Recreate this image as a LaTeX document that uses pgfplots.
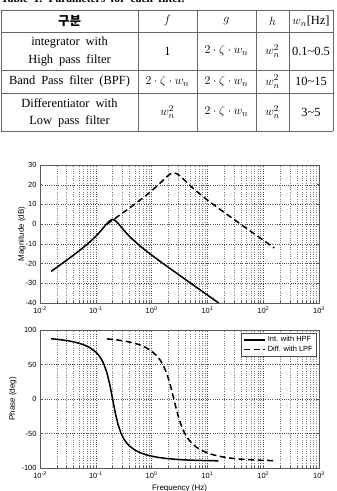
\documentclass[border=0pt]{standalone}
\usepackage{fontspec}
\setmainfont{Liberation Serif}[WordSpace=1.9]
\newfontfamily\plotfont{Liberation Sans}
\newfontfamily\cjk{Noto Sans CJK KR}
\usepackage{pgfplots}
\pgfplotsset{compat=1.18}

% Bode magnitude / phase data (frequency in Hz)
\pgfplotstableread{
f mag
0.0158 -23.99
0.02 -21.91
0.025 -19.93
0.0316 -17.84
0.04 -15.68
0.05 -13.58
0.063 -11.30
0.079 -8.91
0.1 -6.16
0.112 -4.70
0.126 -3.06
0.141 -1.40
0.158 0.30
0.178 1.79
0.2 2.39
0.224 1.82
0.251 0.42
0.282 -1.31
0.316 -2.99
0.355 -4.62
0.398 -6.10
0.5 -8.77
0.631 -11.24
0.794 -13.50
1.0 -15.68
1.26 -17.79
1.58 -19.82
2.0 -21.91
2.51 -23.91
3.16 -25.93
3.98 -27.94
5.01 -29.95
6.31 -31.95
7.94 -33.95
10 -35.96
12.6 -37.97
15.8 -39.94
}\intmag

\pgfplotstableread{
f ph
0.0158 87.3
0.02 86.5
0.025 85.6
0.0316 84.4
0.04 82.8
0.05 80.8
0.063 78.1
0.079 74.2
0.1 68.1
0.112 63.8
0.126 57.7
0.141 49.7
0.158 38.2
0.178 21.1
0.2 0
0.224 -20.6
0.251 -37.2
0.282 -49.2
0.316 -57.5
0.355 -63.5
0.398 -67.9
0.5 -74.0
0.631 -78.0
0.794 -80.8
1.0 -82.8
1.26 -84.4
1.58 -85.6
2.0 -86.5
2.51 -87.2
3.16 -87.8
3.98 -88.3
5.01 -88.6
6.31 -88.9
7.94 -89.1
10 -89.3
12.6 -89.45
15.8 -89.6
}\intph

\pgfplotstableread{
f mag
0.158 -0.04
0.2 2.02
0.251 4.02
0.316 6.05
0.398 8.11
0.5 10.18
0.631 12.34
0.794 14.56
1.0 16.90
1.26 19.43
1.41 20.73
1.58 22.09
1.78 23.50
2.0 24.76
2.24 25.66
2.51 25.99
2.82 25.60
3.16 24.65
3.55 23.38
3.98 22.02
4.47 20.64
5.01 19.32
6.31 16.80
7.94 14.47
10 12.25
12.6 10.11
15.8 8.06
20 5.95
25.1 3.95
31.6 1.92
39.8 -0.10
50.1 -2.10
63.1 -4.11
79.4 -6.11
100 -8.12
126 -10.13
158 -12.09
}\difmag

\pgfplotstableread{
f ph
0.158 87.1
0.2 86.4
0.251 85.4
0.316 84.2
0.398 82.7
0.5 80.7
0.631 78.0
0.794 74.4
1.0 69.4
1.26 62.0
1.41 56.9
1.58 50.3
1.78 41.3
2.0 29.7
2.24 15.6
2.51 -0.6
2.82 -17.0
3.16 -31.0
3.55 -42.2
3.98 -50.7
4.47 -57.3
5.01 -62.4
6.31 -69.7
7.94 -74.6
10 -78.1
12.6 -80.8
15.8 -82.7
20 -84.3
25.1 -85.5
31.6 -86.4
39.8 -87.2
50.1 -87.7
63.1 -88.2
79.4 -88.6
100 -88.9
126 -89.1
158 -89.3
}\difph

\tikzset{
  intline/.style={black, line width=1.5bp},
  difline/.style={black, line width=1.5bp, dash pattern=on 6bp off 3.5bp},
}

\newcommand\tabfont{\fontsize{12.5}{17.7}\selectfont}

\begin{document}
\begin{tikzpicture}[x=1bp,y=1bp]
\useasboundingbox (0,0) rectangle (336,491);

% ---- table caption and parameter table ----
\node[anchor=base west, inner sep=0, font=\fontsize{11.5}{13}\selectfont\bfseries] at (1,488.3) {Table 1. Parameters for each filter.};

\begin{scope}[line width=0.8bp, black!60]
  \foreach \yy in {481,459,421,398,360} \draw (1,\yy) -- (333,\yy);
  \foreach \xx in {1,138,197,256,289,333} \draw (\xx,360) -- (\xx,481);
\end{scope}

\begin{scope}[every node/.style={align=center, font=\tabfont, inner sep=0}]
  \node at (69.5,470) {\cjk\bfseries 구분};
  \node at (167.5,470) {$f$};
  \node at (226.5,470) {$g$};
  \node at (272.5,470) {$h$};
  \node at (311,470) {$w_n$[Hz]};

  \node at (69.5,439.5) {integrator with\\High pass filter};
  \node at (167.5,440) {1};
  \node at (226.5,440) {$2\cdot\zeta\cdot w_n$};
  \node at (272.5,440) {$w_n^2$};
  \node at (311,440) {0.1\textasciitilde0.5};

  \node at (69.5,409.5) {Band Pass filter (BPF)};
  \node at (167.5,409.5) {$2\cdot\zeta\cdot w_n$};
  \node at (226.5,409.5) {$2\cdot\zeta\cdot w_n$};
  \node at (272.5,409.5) {$w_n^2$};
  \node at (311,409.5) {10\textasciitilde15};

  \node at (69.5,378) {Differentiator with\\Low pass filter};
  \node at (167.5,379) {$w_n^2$};
  \node at (226.5,379) {$2\cdot\zeta\cdot w_n$};
  \node at (272.5,379) {$w_n^2$};
  \node at (311,379) {3\textasciitilde5};
\end{scope}

% ---- magnitude ----
\begin{axis}[
  at={(40bp,188bp)}, anchor=south west,
  xmode=log,
  scale only axis, width=279bp, height=138bp,
  xmin=0.01, xmax=1000,
  xtick={0.01,0.1,1,10,100,1000},
  xticklabels={10\textsuperscript{-2},10\textsuperscript{-1},10\textsuperscript{0},10\textsuperscript{1},10\textsuperscript{2},10\textsuperscript{3}},
  minor xtick={0.02,0.03,0.04,0.05,0.06,0.07,0.08,0.09,0.2,0.3,0.4,0.5,0.6,0.7,0.8,0.9,2,3,4,5,6,7,8,9,20,30,40,50,60,70,80,90,200,300,400,500,600,700,800,900},
  grid=both,
  major grid style={black!70, line width=0.4bp, dash pattern=on 0.8bp off 1.5bp},
  minor grid style={black!50, line width=0.4bp, dash pattern=on 0.8bp off 1.5bp},
  axis line style={black!65, line width=0.6bp},
  tick align=inside, major tick length=2.5bp, minor tick length=1.5bp,
  xtick pos=both, ytick pos=both,
  tick style={black!65, line width=0.5bp},
  tick label style={font=\plotfont\fontsize{7.5}{8}\selectfont},
  /pgf/number format/assume math mode=true,
  ylabel style={font=\plotfont\fontsize{8}{9}\selectfont, at={(axis description cs:-0.0656,0.5)}, anchor=center},
  ymin=-40, ymax=30, ytick={-40,-30,-20,-10,0,10,20,30},
  ylabel={Magnitude (dB)},
]
\addplot[intline] table[x=f, y=mag] {\intmag};
\addplot[difline] table[x=f, y=mag] {\difmag};
\end{axis}

% ---- phase ----
\begin{axis}[
  at={(40bp,23bp)}, anchor=south west,
  xmode=log,
  scale only axis, width=279bp, height=138bp,
  xmin=0.01, xmax=1000,
  xtick={0.01,0.1,1,10,100,1000},
  xticklabels={10\textsuperscript{-2},10\textsuperscript{-1},10\textsuperscript{0},10\textsuperscript{1},10\textsuperscript{2},10\textsuperscript{3}},
  minor xtick={0.02,0.03,0.04,0.05,0.06,0.07,0.08,0.09,0.2,0.3,0.4,0.5,0.6,0.7,0.8,0.9,2,3,4,5,6,7,8,9,20,30,40,50,60,70,80,90,200,300,400,500,600,700,800,900},
  grid=both,
  major grid style={black!70, line width=0.4bp, dash pattern=on 0.8bp off 1.5bp},
  minor grid style={black!50, line width=0.4bp, dash pattern=on 0.8bp off 1.5bp},
  axis line style={black!65, line width=0.6bp},
  tick align=inside, major tick length=2.5bp, minor tick length=1.5bp,
  xtick pos=both, ytick pos=both,
  tick style={black!65, line width=0.5bp},
  tick label style={font=\plotfont\fontsize{7.5}{8}\selectfont},
  /pgf/number format/assume math mode=true,
  ymin=-100, ymax=100, ytick={-100,-50,0,50,100},
  ylabel={Phase (deg)},
  ylabel style={font=\plotfont\fontsize{8}{9}\selectfont, at={(axis description cs:-0.097,0.5)}, anchor=center},
  xlabel={Frequency (Hz)},
  xlabel style={font=\plotfont\fontsize{8}{9}\selectfont, at={(axis description cs:0.5,0)}, anchor=base, yshift=-22.5bp},
  legend style={at={(axis description cs:0.993,0.978)}, anchor=north east,
    draw=black!70, line width=0.6bp, fill=white,
    font=\plotfont\fontsize{7.5}{8}\selectfont,
    inner xsep=2bp, inner ysep=1bp, row sep=-1bp},
  legend cell align=left,
  legend image code/.code={\draw[#1] (0bp,0bp) -- (21bp,0bp);},
]
\addplot[intline] table[x=f, y=ph] {\intph};
\addlegendentry{Int. with HPF}
\addplot[difline] table[x=f, y=ph] {\difph};
\addlegendentry{Diff. with LPF}
\end{axis}
\end{tikzpicture}
\end{document}
